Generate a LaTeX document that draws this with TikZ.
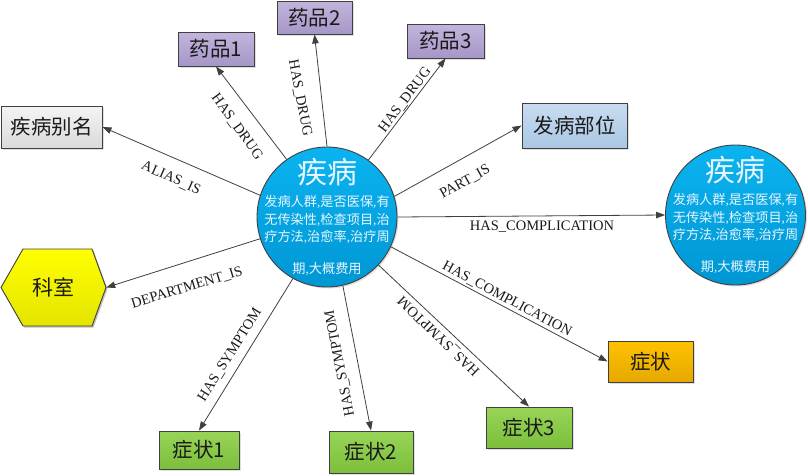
\documentclass[tikz,border=0pt]{standalone}
\usepackage{fontspec}
\setmainfont{Liberation Serif}
\newfontfamily\cjk{Noto Sans CJK SC}
\newcommand{\cmm}{{\rmfamily,}}
\usetikzlibrary{arrows.meta,shadows}
\definecolor{edgec}{HTML}{404040}
\definecolor{textc}{HTML}{1A1A1A}
\definecolor{ctext}{HTML}{E8F6FF}
\definecolor{cTop}{HTML}{0AB4F0}
\definecolor{cBot}{HTML}{0096D4}
\definecolor{pTop}{HTML}{C2B5DC}
\definecolor{pBot}{HTML}{A696C7}
\definecolor{gTop}{HTML}{F4F4F4}
\definecolor{gBot}{HTML}{DADADA}
\definecolor{bTop}{HTML}{C8DCF0}
\definecolor{bBot}{HTML}{AAC7E3}
\definecolor{yTop}{HTML}{FFFF00}
\definecolor{yBot}{HTML}{E4E400}
\definecolor{oTop}{HTML}{FFC200}
\definecolor{oBot}{HTML}{E6A800}
\definecolor{grTop}{HTML}{98D458}
\definecolor{grBot}{HTML}{7CBF3C}
\begin{document}
\begin{tikzpicture}[x=1pt,y=-1pt,
  shad/.style={drop shadow={shadow xshift=1.5pt,shadow yshift=-1.5pt,opacity=0.25}},
  box/.style={draw=edgec, line width=0.9pt, inner sep=0pt, shad,
    font=\cjk\fontsize{20.5}{24}\selectfont, text=textc},
  purplebox/.style={box, top color=pTop, bottom color=pBot},
  graybox/.style={box, top color=gTop, bottom color=gBot},
  bluebox/.style={box, top color=bTop, bottom color=bBot},
  orangebox/.style={box, top color=oTop, bottom color=oBot},
  greenbox/.style={box, top color=grTop, bottom color=grBot},
  disease/.style={circle, draw=edgec, line width=0.9pt, minimum size=140pt,
    inner sep=0pt, top color=cTop, bottom color=cBot, shad},
  ctitle/.style={anchor=base, inner sep=0pt, text=ctext, font=\cjk\fontsize{30}{30}\selectfont},
  cline/.style={anchor=base, inner sep=0pt, text=ctext, font=\cjk\fontsize{13.2}{17}\selectfont},
  edge/.style={draw=edgec, line width=0.8pt, -{Triangle[length=9pt,width=6.5pt]}},
  elabel/.style={inner sep=1pt, text=textc, font=\fontsize{14.5}{16}\selectfont}
]
\useasboundingbox (0,0) rectangle (808,475);

% main disease circle
\node[disease] (main) at (327,217) {};
\node[ctitle] (mt) at ([yshift=33.6pt]main.center) {疾病};
\node[cline] (m1) at ([yshift=10.5pt]main.center) {发病人群\cmm 是否医保\cmm 有};
\node[cline] (m2) at ([yshift=-7pt]main.center) {无传染性\cmm 检查项目\cmm 治};
\node[cline] (m3) at ([yshift=-24.5pt]main.center) {疗方法\cmm 治愈率\cmm 治疗周};
\node[cline] (m4) at ([yshift=-56.5pt]main.center) {期\cmm 大概费用};

% complication disease circle
\node[disease] (comp) at (735.5,215) {};
\node[ctitle] (ct) at ([yshift=33.6pt]comp.center) {疾病};
\node[cline] (c1) at ([yshift=10.5pt]comp.center) {发病人群\cmm 是否医保\cmm 有};
\node[cline] (c2) at ([yshift=-7pt]comp.center) {无传染性\cmm 检查项目\cmm 治};
\node[cline] (c3) at ([yshift=-24.5pt]comp.center) {疗方法\cmm 治愈率\cmm 治疗周};
\node[cline] (c4) at ([yshift=-56.5pt]comp.center) {期\cmm 大概费用};

% boxes
\node[purplebox, minimum width=76pt, minimum height=34pt] (d1) at (216,49) {药品1};
\node[purplebox, minimum width=75pt, minimum height=33pt] (d2) at (314.5,17.5) {药品2};
\node[purplebox, minimum width=77pt, minimum height=34pt] (d3) at (445.5,41) {药品3};
\node[bluebox, minimum width=105pt, minimum height=45pt] (part) at (574.5,125.5) {发病部位};
\node[graybox, minimum width=101pt, minimum height=42pt] (alias) at (51.5,127) {疾病别名};
\node[orangebox, minimum width=85pt, minimum height=41pt] (so) at (650.5,361.5) {症状};
\node[greenbox, minimum width=80pt, minimum height=38pt] (s1) at (199,450) {症状1};
\node[greenbox, minimum width=84pt, minimum height=42pt] (s2) at (371,452) {症状2};
\node[greenbox, minimum width=86pt, minimum height=41pt] (s3) at (529,427.5) {症状3};

% department hexagon
\fill[black, opacity=0.25] (2.5,289) -- (24.5,250.5) -- (93.5,250.5) -- (107.5,289) -- (93.5,327.5) -- (24.5,327.5) -- cycle;
\draw[draw=edgec, line width=0.9pt, top color=yTop, bottom color=yBot]
  (1,287.5) -- (23,249) -- (92,249) -- (106,287.5) -- (92,326) -- (23,326) -- cycle;
\node[inner sep=0pt, minimum width=105pt, minimum height=77pt,
  font=\cjk\fontsize{21}{24}\selectfont, text=textc] (keshi) at (53.5,287.5) {科室};

% connectors
\draw[edge] (main.125) -- (d1.south);
\draw[edge] (main.90) -- (d2.south);
\draw[edge] (main.54) -- (d3.south);
\draw[edge] (main.17) -- (part.west);
\draw[edge] (main.east) -- (comp.west);
\draw[edge] (main.-25) -- (so.west);
\draw[edge] (main.-43) -- (s3.north);
\draw[edge] (main.-77) -- (s2.north);
\draw[edge] (main.-119) -- (s1.north);
\draw[edge] (main.198) -- (keshi.east);
\draw[edge] (main.162) -- (alias.east);

% connector labels
\node[elabel, rotate=-24] (l1) at (171,178) {ALIAS\_IS};
\node[elabel, rotate=-54] (l2) at (237,127) {HAS\_DRUG};
\node[elabel, rotate=-79] (l3) at (300,98) {HAS\_DRUG};
\node[elabel, rotate=53] (l4) at (405,100) {HAS\_DRUG};
\node[elabel, rotate=29] (l5) at (465,182) {PART\_IS};
\node[elabel] (l6) at (542,227) {HAS\_COMPLICATION};
\node[elabel, rotate=-28] (l7) at (507,299) {HAS\_COMPLICATION};
\node[elabel, rotate=136] (l8) at (439,336) {HAS\_SYMPTOM};
\node[elabel, rotate=101] (l9) at (340,363) {HAS\_SYMPTOM};
\node[elabel, rotate=58] (l10) at (230,355) {HAS\_SYMPTOM};
\node[elabel, rotate=17] (l11) at (187,288) {DEPARTMENT\_IS};
\end{tikzpicture}
\end{document}
